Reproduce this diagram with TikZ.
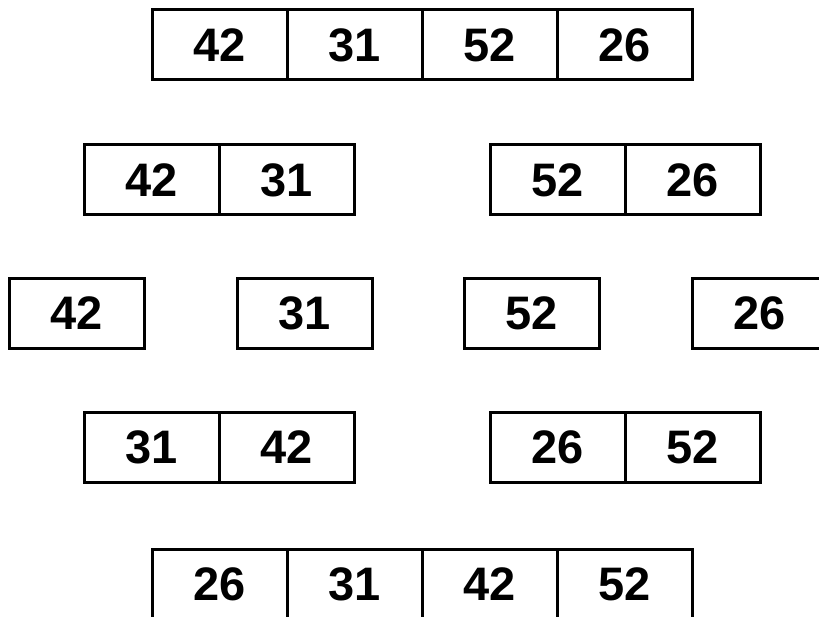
\documentclass[tikz,border=0pt]{standalone}
\usepackage{fontspec}
\setmainfont{Liberation Sans}
\tikzset{
  cell/.style={draw=black, line width=3pt, minimum width=135pt, minimum height=70pt, inner sep=0pt, font=\fontsize{47}{50}\selectfont\bfseries, text=black}
}
\begin{document}
\begin{tikzpicture}[x=1pt,y=-1pt]
\useasboundingbox (0,0) rectangle (819,617);
\clip (0,0) rectangle (819,617);
% row 1
\node[cell] (a1) at (219.5,45) {42};
\node[cell] (a2) at (354.5,45) {31};
\node[cell] (a3) at (489.5,45) {52};
\node[cell] (a4) at (624.5,45) {26};
% row 2
\node[cell] (b1) at (151.5,180) {42};
\node[cell] (b2) at (286.5,180) {31};
\node[cell] (b3) at (557.5,180) {52};
\node[cell] (b4) at (692.5,180) {26};
% row 3
\node[cell] (c1) at (77,313.5) {42};
\node[cell] (c2) at (304.5,313.5) {31};
\node[cell] (c3) at (532,313.5) {52};
\node[cell] (c4) at (759.5,313.5) {26};
% row 4
\node[cell] (d1) at (151.5,447) {31};
\node[cell] (d2) at (286.5,447) {42};
\node[cell] (d3) at (557.5,447) {26};
\node[cell] (d4) at (692.5,447) {52};
% row 5
\node[cell] (e1) at (219.5,584) {26};
\node[cell] (e2) at (354.5,584) {31};
\node[cell] (e3) at (489.5,584) {42};
\node[cell] (e4) at (624.5,584) {52};
\end{tikzpicture}
\end{document}
